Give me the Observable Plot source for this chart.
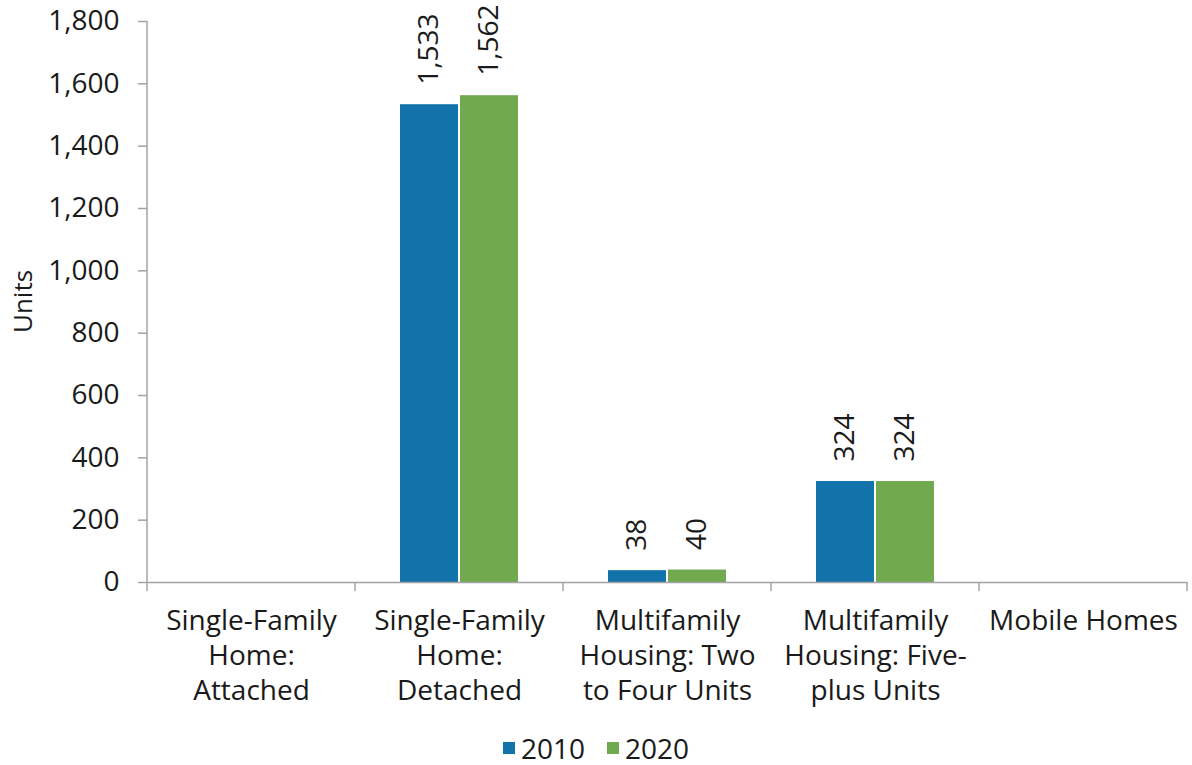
<!DOCTYPE html>
<html>
<head>
<meta charset="utf-8">
<script src="https://cdn.jsdelivr.net/npm/d3@7"></script>
<script src="https://cdn.jsdelivr.net/npm/@observablehq/plot@0.6"></script>
<style>
  html, body { margin: 0; padding: 0; background: #fff; }
  body { width: 1192px; height: 765px; overflow: hidden; font-family: "Open Sans", sans-serif; }
  #legend { display: flex; justify-content: center; align-items: center; gap: 22px; height: 52px; font-size: 28px; line-height: 1; color: #1a1a1a; }
  .item { display: flex; align-items: center; gap: 6px; }
  .swatch { width: 12px; height: 12px; display: inline-block; }
</style>
</head>
<body>
<div id="chart"></div>
<div id="legend"></div>
<script>
const categories = [
  "Single-Family Home: Attached",
  "Single-Family Home: Detached",
  "Multifamily Housing: Two to Four Units",
  "Multifamily Housing: Five-plus Units",
  "Mobile Homes"
];
const tickLabels = [
  "Single-Family\nHome:\nAttached",
  "Single-Family\nHome:\nDetached",
  "Multifamily\nHousing: Two\nto Four Units",
  "Multifamily\nHousing: Five-\nplus Units",
  "Mobile Homes"
];
const years = ["2010", "2020"];
const values2010 = [0, 1533, 38, 324, 0];
const values2020 = [0, 1562, 40, 324, 0];
const yTicks = [0, 200, 400, 600, 800, 1000, 1200, 1400, 1600, 1800];
const colors = ["#1272aa", "#71a94f"];
const axisGray = "#a3a3a3";
const FONT = "'Open Sans', sans-serif";

const data = categories.flatMap((c, i) => [
  {category: c, year: years[0], value: values2010[i]},
  {category: c, year: years[1], value: values2020[i]}
]);
const fmt = d3.format(",");

const W = 1192, H = 722;
const mTop = 21, mBottom = H - 582, mLeft = 146, mRight = 5;

const chart = Plot.plot({
  width: W, height: H,
  marginTop: mTop, marginBottom: mBottom, marginLeft: mLeft, marginRight: mRight,
  style: {fontFamily: FONT, fontSize: "28px", color: "#1a1a1a", background: "#fff", overflow: "visible"},
  fx: {domain: categories, padding: 0, label: null},
  x: {domain: years, paddingInner: 2 / 60, paddingOuter: 0.75, axis: null},
  y: {domain: [0, 1800], label: null},
  color: {domain: years, range: colors},
  marks: [
    Plot.axisY({ticks: yTicks, tickFormat: fmt, tickSize: 9, tickPadding: 19, stroke: axisGray, strokeWidth: 1.5, label: null, fill: "#1a1a1a"}),
    Plot.axisFx({anchor: "bottom", tickSize: 0, tickPadding: 23, tickFormat: d => tickLabels[categories.indexOf(d)], lineHeight: 1.25, label: null, fill: "#1a1a1a"}),
    Plot.barY(data, {fx: "category", x: "year", y: "value", fill: "year"}),
    Plot.ruleY([0], {stroke: axisGray, strokeWidth: 1.5}),
    Plot.text(data.filter(d => d.value > 0), {
      fx: "category", x: "year", y: "value", text: d => fmt(d.value),
      rotate: -90, textAnchor: "start", dy: -20, fill: "#1a1a1a"
    })
  ]
});

document.getElementById("chart").appendChild(chart);

// y axis line and category boundary ticks, from the plot's own scales
const ys = chart.scale("y");
const fxs = chart.scale("fx");
const svg = d3.select(chart);
const y0 = ys.apply(0), yTop = ys.apply(1800);
const starts = categories.map(c => fxs.apply(c));
const bounds = [...starts, starts[starts.length - 1] + fxs.bandwidth];
const g = svg.append("g").attr("stroke", axisGray).attr("stroke-width", 1.5);
g.append("line").attr("x1", bounds[0]).attr("x2", bounds[0]).attr("y1", yTop).attr("y2", y0);
g.selectAll("line.b").data(bounds).join("line").attr("class", "b")
  .attr("x1", d => d).attr("x2", d => d).attr("y1", y0).attr("y2", y0 + 9);

// y axis title
svg.append("text")
  .attr("transform", `translate(22,${(y0 + yTop) / 2}) rotate(-90)`)
  .attr("text-anchor", "middle").attr("dominant-baseline", "central")
  .attr("font-family", FONT).attr("font-size", 26).attr("fill", "#1a1a1a")
  .text("Units");

// legend
const legend = d3.select("#legend");
years.forEach((yr, i) => {
  const it = legend.append("div").attr("class", "item");
  it.append("span").attr("class", "swatch").style("background", colors[i]);
  it.append("span").text(yr);
});
</script>
</body>
</html>
